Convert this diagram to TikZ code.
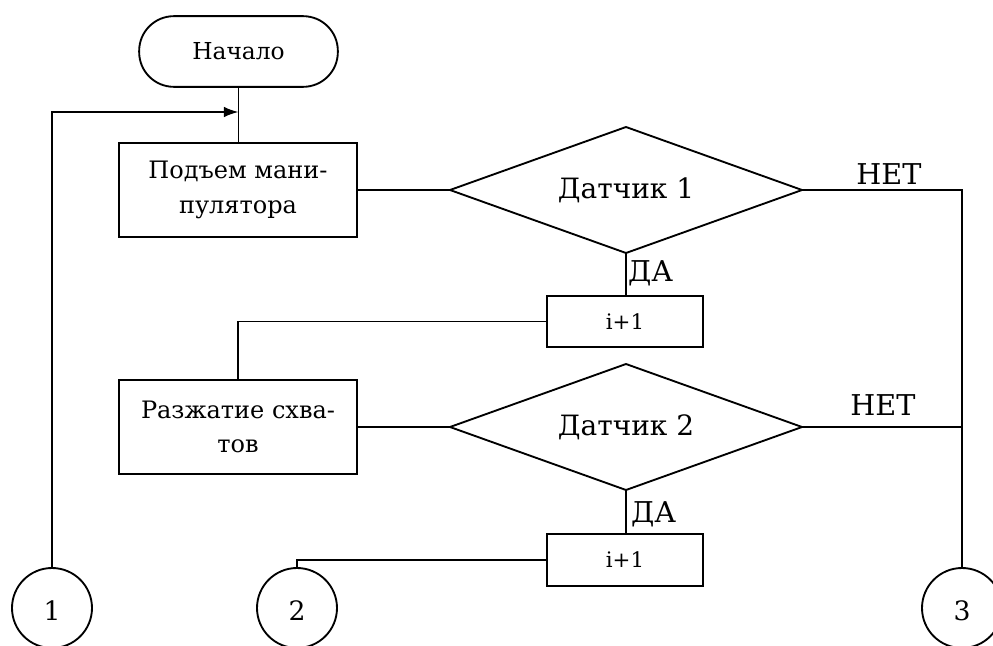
\documentclass[tikz,border=0pt]{standalone}
\usepackage{fontspec}
\setmainfont{DejaVu Serif}
\usetikzlibrary{shapes.geometric,arrows.meta}

\begin{document}
\begin{tikzpicture}[x=0.75pt,y=-0.75pt,
  line width=1.4pt,
  every node/.style={inner sep=0pt,outer sep=0pt},
  terminal/.style={draw,rectangle,rounded corners=26pt,minimum width=149pt,minimum height=53pt,font=\fontsize{17.5pt}{22pt}\selectfont},
  procbox/.style={draw,rectangle,minimum width=178.5pt,minimum height=70.5pt,align=center,font=\fontsize{18pt}{26pt}\selectfont},
  incbox/.style={draw,rectangle,minimum width=117pt,minimum height=38.5pt,font=\fontsize{16pt}{20pt}\selectfont},
  decision/.style={draw,diamond,aspect=2.8,minimum width=264pt,minimum height=94.5pt,font=\fontsize{21pt}{26pt}\selectfont},
  connector/.style={draw,circle,minimum size=60pt,text height=19pt,font=\fontsize{20pt}{24pt}\selectfont},
  answer/.style={font=\fontsize{21.5pt}{26pt}\selectfont},
  arrowline/.style={-{Latex[length=11pt,width=8pt]}}
]
\useasboundingbox (0,0) rectangle (993,646);

% blocks
\node[terminal] (start) at (238.5,51.5) {Начало};
\node[procbox] (lift) at (238,190) {Подъем мани-\\пулятора};
\node[decision] (d1) at (626,190) {Датчик 1};
\node[incbox] (inc1) at (625,321.5) {i+1};
\node[procbox] (open) at (238,427) {Разжатие схва-\\тов};
\node[decision] (d2) at (626,427) {Датчик 2};
\node[incbox] (inc2) at (625,560) {i+1};

% off-page connectors
\node[connector] (c1) at (52,608) {1};
\node[connector] (c2) at (297,608) {2};
\node[connector] (c3) at (962,608) {3};

% branch labels
\node[answer,anchor=base] (no1) at (889,184) {НЕТ};
\node[answer,anchor=base] (no2) at (883,415) {НЕТ};
\node[answer,anchor=base west] (yes1) at (628,281) {ДА};
\node[answer,anchor=base west] (yes2) at (631,522) {ДА};

\coordinate (join) at (start.south |- 0,112);

% flow lines
\draw (start.south) -- (start.south |- lift.north);
\draw[arrowline] (c1.north) |- (join);
\draw (lift.east) -- (d1.west);
\draw (d1.east) -| (c3.north);
\draw (d1.south) -- (d1.south |- inc1.north);
\draw (inc1.west) -| (open.north);
\draw (open.east) -- (d2.west);
\draw (d2.east) -- (d2.east -| c3.north);
\draw (d2.south) -- (d2.south |- inc2.north);
\draw (inc2.west) -| (c2.north);
\end{tikzpicture}
\end{document}
